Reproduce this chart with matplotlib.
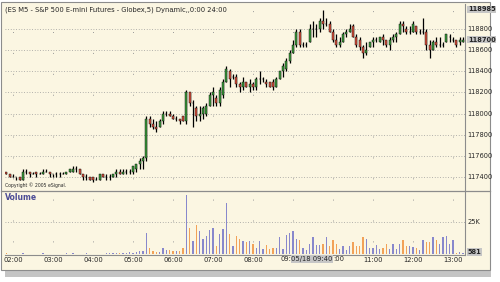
"""eSignal style 5-min ES M5 chart with volume panel."""
import numpy as np
import pandas as pd
import matplotlib
matplotlib.use('Agg')
import matplotlib.pyplot as plt
import matplotlib.transforms as mtransforms
from matplotlib.patches import Rectangle
from matplotlib.lines import Line2D

# ── data: 5-minute bars starting 01:50 ──────────────────────────────────
START = '2005-05-18 01:50'

opens = [
    117450, 117425, 117400, 117400, 117400, 117375, 117450, 117450, 117425, 117450,
    117425, 117425, 117450, 117450, 117425, 117425, 117425, 117425, 117425, 117450,
    117450, 117475, 117475, 117425, 117400, 117400, 117400, 117375, 117375, 117425,
    117400, 117400, 117400, 117425, 117450, 117425, 117450, 117450, 117450, 117475,
    117525, 117550, 117575, 117950, 117900, 117875, 117875, 117925, 118000, 118000,
    117975, 117950, 117950, 117975, 117925, 118200, 118100, 118050, 117975, 118000,
    118000, 118075, 118175, 118150, 118100, 118175, 118300, 118400, 118350, 118350,
    118275, 118250, 118300, 118250, 118275, 118250, 118325, 118325, 118300, 118300,
    118300, 118250, 118325, 118400, 118425, 118500, 118575, 118650, 118775, 118650,
    118650, 118675, 118800, 118800, 118800, 118875, 118850, 118850, 118775, 118700,
    118650, 118675, 118750, 118775, 118825, 118725, 118700, 118625, 118575, 118625,
    118675, 118700, 118675, 118725, 118700, 118650, 118700, 118725, 118750, 118850,
    118800, 118775, 118775, 118825, 118775, 118775, 118775, 118650, 118600, 118675,
    118650, 118650, 118675, 118725, 118700, 118700, 118675, 118675,
]
highs = [
    117450, 117425, 117425, 117400, 117400, 117475, 117475, 117450, 117450, 117450,
    117450, 117475, 117475, 117450, 117425, 117450, 117450, 117450, 117450, 117475,
    117500, 117500, 117475, 117425, 117425, 117400, 117400, 117400, 117425, 117425,
    117425, 117425, 117425, 117475, 117475, 117475, 117475, 117475, 117500, 117525,
    117575, 117600, 117975, 117975, 117950, 117925, 117950, 118025, 118025, 118025,
    118000, 117975, 117950, 117975, 118225, 118200, 118125, 118075, 118075, 118075,
    118100, 118200, 118250, 118175, 118250, 118325, 118450, 118425, 118375, 118375,
    118300, 118350, 118300, 118325, 118300, 118350, 118400, 118350, 118325, 118300,
    118325, 118350, 118400, 118475, 118525, 118600, 118700, 118800, 118800, 118675,
    118675, 118850, 118875, 118850, 118900, 118975, 118900, 118875, 118800, 118750,
    118725, 118775, 118800, 118850, 118850, 118750, 118725, 118650, 118675, 118675,
    118725, 118725, 118725, 118750, 118700, 118725, 118750, 118775, 118875, 118875,
    118825, 118825, 118875, 118825, 118800, 118900, 118800, 118700, 118700, 118725,
    118725, 118675, 118750, 118750, 118725, 118700, 118725, 118725,
]
lows = [
    117425, 117400, 117400, 117375, 117375, 117375, 117425, 117400, 117425, 117400,
    117425, 117425, 117450, 117400, 117400, 117400, 117400, 117425, 117425, 117450,
    117450, 117450, 117425, 117375, 117375, 117375, 117350, 117375, 117375, 117400,
    117375, 117375, 117400, 117400, 117425, 117425, 117425, 117425, 117425, 117450,
    117475, 117475, 117550, 117875, 117850, 117825, 117875, 117900, 117975, 117975,
    117950, 117925, 117900, 117925, 117900, 118075, 117875, 117925, 117925, 117950,
    117975, 118075, 118075, 118075, 118075, 118150, 118300, 118250, 118325, 118250,
    118200, 118225, 118250, 118200, 118225, 118225, 118275, 118300, 118250, 118250,
    118225, 118250, 118325, 118350, 118400, 118475, 118575, 118625, 118625, 118625,
    118625, 118675, 118725, 118725, 118775, 118800, 118825, 118775, 118675, 118625,
    118625, 118675, 118725, 118775, 118725, 118625, 118600, 118525, 118550, 118625,
    118625, 118675, 118675, 118650, 118625, 118600, 118675, 118675, 118750, 118775,
    118750, 118750, 118775, 118750, 118750, 118750, 118600, 118525, 118600, 118625,
    118625, 118625, 118675, 118675, 118675, 118625, 118650, 118675,
]
closes = [
    117425, 117400, 117400, 117400, 117375, 117450, 117450, 117425, 117425, 117425,
    117425, 117450, 117450, 117425, 117425, 117425, 117425, 117425, 117450, 117475,
    117475, 117475, 117425, 117400, 117400, 117375, 117375, 117375, 117425, 117400,
    117400, 117400, 117425, 117450, 117425, 117450, 117450, 117450, 117500, 117525,
    117550, 117575, 117950, 117900, 117875, 117850, 117925, 118000, 118000, 117975,
    117950, 117950, 117925, 117925, 118200, 118100, 118100, 117975, 118000, 118050,
    118075, 118175, 118200, 118100, 118225, 118300, 118425, 118325, 118350, 118275,
    118250, 118300, 118250, 118275, 118250, 118325, 118325, 118325, 118275, 118250,
    118250, 118325, 118400, 118450, 118500, 118575, 118650, 118775, 118650, 118650,
    118650, 118800, 118800, 118800, 118875, 118850, 118850, 118775, 118700, 118650,
    118675, 118750, 118775, 118800, 118725, 118650, 118625, 118575, 118600, 118675,
    118700, 118700, 118725, 118700, 118650, 118700, 118725, 118750, 118850, 118825,
    118775, 118775, 118850, 118775, 118775, 118775, 118650, 118600, 118675, 118650,
    118650, 118650, 118750, 118725, 118700, 118650, 118700, 118700,
]
volumes = [
    420, 310, 260, 380, 290, 650, 340, 280, 220, 300,
    250, 410, 270, 330, 240, 290, 310, 360, 520, 300,
    450, 380, 290, 330, 480, 260, 390, 310, 280, 350,
    430, 560, 410, 620, 480, 700, 950, 1300, 1100, 1500,
    2000, 2500, 16500, 5000, 2000, 1500, 1500, 4500, 3000, 3000,
    2500, 2000, 2500, 5000, 46000, 20000, 10400, 23000, 18000, 11700,
    14000, 19000, 20000, 6000, 16000, 19500, 40000, 16000, 6000, 14000,
    12000, 10000, 9000, 10000, 8000, 5000, 10000, 4000, 7000, 4000,
    5000, 5000, 13500, 4000, 14500, 16500, 18000, 12000, 10700, 5000,
    3500, 7500, 13000, 7000, 7000, 8000, 13000, 6000, 11000, 8000,
    4000, 6000, 3000, 6500, 9000, 6000, 6000, 13000, 12000, 5000,
    4500, 7000, 4000, 4500, 7500, 4000, 8000, 4000, 8000, 11000,
    6500, 6000, 5500, 5000, 3500, 11000, 9000, 9500, 13000, 11000,
    7500, 13000, 14000, 8000, 11000, 1000, 1500, 581,
]

price_levels = [117400, 117600, 117800, 118000, 118200, 118400, 118600, 118800]
price_marks = [118985, 118700]          # boxed labels (day high, last)
vol_levels = [25000]
vol_labels = ['25K']
hour_labels = ['02:00', '03:00', '04:00', '05:00', '06:00', '07:00',
               '08:00', '09:00', '10:00', '11:00', '12:00', '13:00']

TITLE = '(ES M5 - S&P 500 E-mini Futures - Globex,5) Dynamic,,0:00 24:00'
CURSOR = '05/18 09:40'
# the cursor box hides part of the 09:00 / 10:00 labels
HIDDEN = {'09:00': ('09:', 'right'), '10:00': (':00', 'left')}

CREAM = '#fbf6e2'
GRID = '#9a9a9a'
TXT = '#262626'
UP, DOWN = '#3c9c3c', '#d8503c'
VUP, VDOWN = '#8888cc', '#f2a258'

W, H = 500, 282


def fx(px):
    return px / W


def fy(py):
    return 1 - py / H


def main():
    times = pd.date_range(START, periods=len(closes), freq='5min')
    x = np.arange(len(closes))
    o, h, l, c = map(np.array, (opens, highs, lows, closes))
    v = np.array(volumes)
    hour_x = [i for i, t in enumerate(times) if t.minute == 0]

    fig = plt.figure(figsize=(W / 100, H / 100), dpi=100, facecolor='white')

    # window frame + drop shadow
    fig.add_artist(Rectangle((fx(5), fy(277)), fx(491) - fx(5), fy(6) - fy(277),
                             transform=fig.transFigure, facecolor='#c4c4c4',
                             edgecolor='none', zorder=0))
    fig.add_artist(Rectangle((fx(1), fy(270)), fx(490) - fx(1), fy(2) - fy(270),
                             transform=fig.transFigure, facecolor=CREAM,
                             edgecolor='#8c8c8c', linewidth=0.8, zorder=0))

    ax = fig.add_axes([fx(5), fy(190), fx(465) - fx(5), fy(4) - fy(190)])
    axv = fig.add_axes([fx(5), fy(255), fx(465) - fx(5), fy(191) - fy(255)])

    for a in (ax, axv):
        a.set_facecolor(CREAM)
        a.set_xlim(-0.4, len(closes) - 0.4)
        a.set_xticks([])
        a.set_yticks([])
        for s in ('left', 'top', 'bottom'):
            a.spines[s].set_visible(False)
        a.spines['right'].set_color('#8c8c8c')
        a.spines['right'].set_linewidth(0.8)

    # ── price panel ──
    ax.set_ylim(117277, 119036)
    ax.vlines(hour_x, 117277, 119036, colors=GRID, linewidth=0.7,
              linestyles=(10, (1.0, 20.5)), zorder=1)
    ax.hlines(price_levels, -0.4, len(closes), colors=GRID, linewidth=0.6,
              linestyles=(0, (1, 2.2)), zorder=1)
    ax.vlines(x, l, h, colors='black', linewidth=0.9, zorder=3)
    body_col = np.where(c >= o, UP, DOWN)
    ax.bar(x, c - o, bottom=o, width=0.52, color=body_col,
           edgecolor='black', linewidth=0.3, zorder=4)

    tr = mtransforms.blended_transform_factory(ax.transAxes, ax.transData)
    for p in price_levels:
        if abs(p - 118700) < 50:
            continue
        ax.text(1.006, p, str(p), transform=tr, fontsize=4.8, color=TXT,
                va='center', ha='left')
    for p in price_marks:
        ax.text(1.006, p, str(p), transform=tr, fontsize=4.8, color=TXT,
                va='center', ha='left', fontweight='bold',
                bbox=dict(facecolor='#c6c6c6', edgecolor='none', pad=0.6))

    ax.text(0.0, 0.985, TITLE, transform=ax.transAxes, fontsize=4.9,
            color=TXT, va='top', ha='left')
    ax.text(0.0, 0.012, 'Copyright \u00a9 2005 eSignal.', transform=ax.transAxes,
            fontsize=3.3, color=TXT, va='bottom', ha='left')

    # separator across full width
    fig.add_artist(Line2D([fx(1), fx(490)], [fy(190.5), fy(190.5)],
                          transform=fig.transFigure, color='#8c8c8c', linewidth=0.9))

    # ── volume panel ──
    axv.set_ylim(-781, 49219)
    axv.vlines(hour_x, -781, 49219, colors=GRID, linewidth=0.7,
               linestyles=(8, (1.0, 20.5)), zorder=1)
    axv.hlines(vol_levels, -0.4, len(closes), colors=GRID, linewidth=0.6,
               linestyles=(0, (1, 2.2)), zorder=1)
    vol_col = np.where(c >= o, VUP, VDOWN)
    axv.bar(x, v, width=0.42, color=vol_col, linewidth=0, zorder=3)
    axv.spines['bottom'].set_visible(True)
    axv.spines['bottom'].set_color('#8c8c8c')
    axv.spines['bottom'].set_linewidth(0.8)

    trv = mtransforms.blended_transform_factory(axv.transAxes, axv.transData)
    for lv, lb in zip(vol_levels, vol_labels):
        axv.text(1.006, lv, lb, transform=trv, fontsize=4.8, color=TXT,
                 va='center', ha='left')
    axv.text(1.006, v[-1] + 800, str(v[-1]), transform=trv, fontsize=4.8,
             color=TXT, va='center', ha='left', fontweight='bold',
             bbox=dict(facecolor='#c6c6c6', edgecolor='none', pad=0.6))
    axv.text(0.0, 0.97, 'Volume', transform=axv.transAxes, fontsize=5.5,
             color='#4c4c96', fontweight='bold', va='top', ha='left')

    # time axis labels
    box_l, box_r = 295, 329
    trx = mtransforms.blended_transform_factory(axv.transData, axv.transAxes)
    for hx, lb in zip(hour_x, hour_labels):
        if lb in HIDDEN:
            frag, side = HIDDEN[lb]
            edge = box_l - 4 if side == 'right' else box_r + 4
            fig.text(fx(edge), fy(259), frag, fontsize=4.9, color=TXT,
                     va='center', ha=side)
            continue
        axv.text(hx, -0.035, lb, transform=trx, fontsize=4.9, color=TXT,
                 va='top', ha='center')
    fig.text(fx((box_l + box_r) / 2), fy(259), CURSOR, fontsize=4.9, color=TXT,
             va='center', ha='center',
             bbox=dict(facecolor='#c6c6c6', edgecolor='none', pad=0.5))

    fig.savefig('out.png', dpi=100, facecolor='white')


if __name__ == '__main__':
    main()
